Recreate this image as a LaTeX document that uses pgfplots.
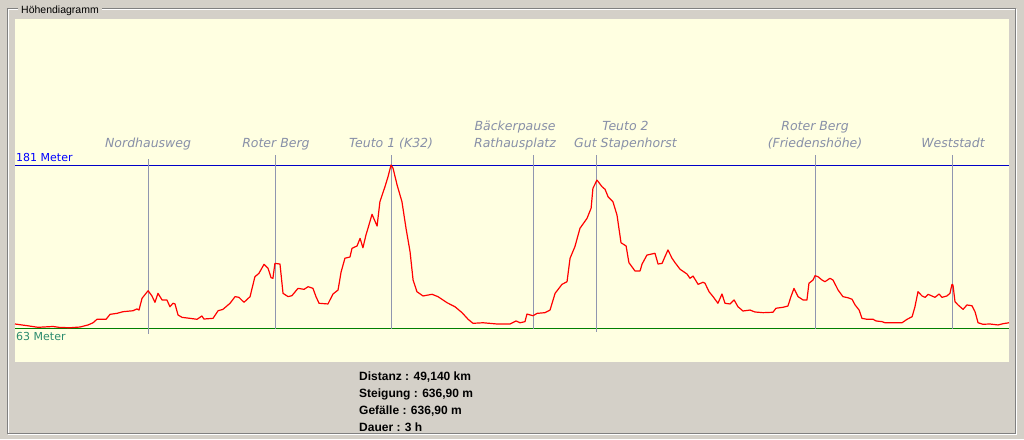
\documentclass[border=0pt]{standalone}
\usepackage{pgfplots}
\pgfplotsset{compat=1.18}
\usepackage{pgfplotstable}
\usepackage{fontspec}
\setmainfont{Liberation Sans}
\newfontfamily\dvs{DejaVu Sans}
\definecolor{winbg}{RGB}{212,208,200}
\definecolor{plotbg}{RGB}{255,255,225}
\definecolor{etchgray}{RGB}{128,128,128}
\definecolor{wpline}{RGB}{144,150,176}
\definecolor{wptext}{RGB}{136,144,168}
\definecolor{line181}{RGB}{0,0,200}
\definecolor{text181}{RGB}{0,0,255}
\definecolor{line63}{RGB}{0,128,0}
\definecolor{text63}{RGB}{45,140,110}
\definecolor{prof}{RGB}{255,0,0}
\tikzset{wplab/.style={text=wptext, anchor=base, inner sep=0pt, font=\dvs\itshape\fontsize{12.5}{15}\selectfont}}

\pgfplotstableread{
km m
0.00 65.9
0.59 64.7
1.14 63.5
1.88 64.1
2.22 63.4
2.72 63.2
3.21 63.7
3.61 65.2
3.86 66.8
4.05 69.3
4.50 69.3
4.70 72.9
5.04 73.6
5.34 74.8
5.83 75.5
6.03 76.8
6.13 76.0
6.28 84.5
6.58 90.0
6.77 86.2
6.92 81.6
7.07 88.1
7.27 83.3
7.51 83.3
7.66 78.4
7.81 80.9
7.91 80.4
8.06 72.4
8.26 70.7
8.65 70.0
9.00 69.3
9.24 71.7
9.34 69.5
9.79 70.0
10.04 75.5
10.28 76.5
10.63 80.9
10.88 85.7
11.07 85.2
11.32 81.6
11.62 85.7
11.86 100.1
12.06 102.6
12.31 109.1
12.51 106.2
12.66 99.4
12.75 99.0
12.85 109.8
13.10 109.3
13.25 88.1
13.50 85.7
13.69 86.4
13.99 91.7
14.29 91.0
14.49 92.9
14.73 91.7
14.88 85.7
15.03 80.9
15.47 80.4
15.72 87.6
15.97 90.5
16.12 103.5
16.31 113.5
16.56 114.4
16.66 120.7
16.91 122.4
17.06 127.9
17.20 121.1
17.35 130.3
17.45 135.2
17.65 145.3
17.90 136.8
18.04 154.4
18.29 165.3
18.44 172.5
18.59 181.0
18.69 178.6
18.89 166.5
19.13 154.4
19.33 135.2
19.53 118.2
19.68 97.7
19.87 89.3
20.17 86.2
20.62 87.4
20.91 85.7
21.36 81.3
21.75 78.4
22.10 74.1
22.40 69.3
22.64 66.4
23.14 66.8
23.83 65.9
24.47 65.9
24.77 68.1
24.97 66.8
25.21 67.6
25.31 73.1
25.61 71.9
25.81 73.6
26.20 74.1
26.45 76.0
26.70 88.1
27.04 94.6
27.29 96.5
27.44 113.5
27.68 121.9
27.93 135.2
28.28 142.4
28.48 149.7
28.57 164.1
28.77 170.1
29.02 165.3
29.17 163.4
29.32 158.0
29.56 154.4
29.76 144.8
29.96 124.7
30.21 122.4
30.35 110.3
30.65 104.3
30.90 104.3
31.00 109.3
31.24 115.8
31.64 117.1
31.79 109.3
31.99 109.8
32.13 114.6
32.28 119.5
32.48 113.5
32.63 110.3
32.88 105.5
33.22 102.1
33.37 99.0
33.52 100.6
33.77 94.6
34.01 96.1
34.11 95.4
34.31 89.3
34.51 85.7
34.75 80.9
34.95 87.6
35.10 80.9
35.35 80.4
35.55 83.3
35.74 78.4
35.99 75.3
36.34 76.0
36.58 74.6
36.98 74.1
37.47 74.4
37.62 77.3
37.97 78.0
38.21 78.9
38.36 85.7
38.51 91.7
38.71 85.7
38.96 83.3
39.15 83.3
39.25 95.4
39.45 97.7
39.55 100.9
39.70 100.1
39.90 97.7
40.04 96.5
40.29 99.0
40.44 97.7
40.69 90.5
40.93 85.7
41.18 84.9
41.38 83.8
41.53 79.7
41.73 76.0
41.87 70.0
42.12 69.3
42.42 69.3
42.57 68.1
42.86 67.6
43.01 66.8
43.41 66.8
43.85 66.8
44.10 69.3
44.35 71.2
44.49 78.4
44.64 89.3
44.84 86.2
44.99 85.2
45.14 87.4
45.48 85.2
45.68 87.6
45.83 85.2
46.07 86.2
46.22 88.1
46.32 94.6
46.37 94.1
46.47 82.0
46.62 79.7
46.87 76.5
47.06 79.7
47.31 79.1
47.46 74.8
47.61 66.8
47.85 65.7
48.20 65.9
48.60 65.2
48.84 66.1
49.14 66.8
}\profile

\begin{document}
\begin{tikzpicture}[x=1pt,y=1pt]
\fill[winbg] (0,0) rectangle (1024,439);
\useasboundingbox (0,0) rectangle (1024,439);
% etched group box
\draw[white, line width=1pt] (8.5,5) rectangle (1016,429.5);
\draw[etchgray, line width=1pt] (7.5,6) rectangle (1015,430.5);
\node[anchor=base west, fill=winbg, inner xsep=3pt, inner ysep=1.5pt, font=\fontsize{10.5}{12}\selectfont] at (18,425.5) {Höhendiagramm};
% plot area
\fill[plotbg] (15,77) rectangle (1009,420);
\begin{axis}[
  at={(15pt,77pt)}, anchor=south west,
  scale only axis, width=994pt, height=343pt,
  xmin=0, xmax=49.14, ymin=38.39, ymax=286.7,
  hide axis, clip=false,
]
% reference lines
\addplot[line181, line width=1pt] coordinates {(0,181) (49.14,181)};
\addplot[line63, line width=1pt] coordinates {(0,63) (49.14,63)};
% waypoint lines
\addplot[wpline, line width=1pt] coordinates {(6.58,185.3) (6.58,58.7)};
\addplot[wpline, line width=1pt] coordinates {(12.90,188.2) (12.90,62.3)};
\addplot[wpline, line width=1pt] coordinates {(18.59,188.2) (18.59,62.3)};
\addplot[wpline, line width=1pt] coordinates {(25.61,188.2) (25.61,62.3)};
\addplot[wpline, line width=1pt] coordinates {(28.77,188.2) (28.77,60.1)};
\addplot[wpline, line width=1pt] coordinates {(39.55,188.2) (39.55,62.3)};
\addplot[wpline, line width=1pt] coordinates {(46.37,188.2) (46.37,62.3)};
% profile
\addplot[prof, line width=1.2pt, line join=round] table[x=km, y=m] {\profile};
% labels
\node[wplab] at (axis cs:6.58,194.0) {Nordhausweg};
\node[wplab] at (axis cs:12.90,194.0) {Roter Berg};
\node[wplab] at (axis cs:18.59,194.0) {Teuto 1 (K32)};
\node[wplab] at (axis cs:24.72,206.0) {Bäckerpause};
\node[wplab] at (axis cs:24.72,193.7) {Rathausplatz};
\node[wplab] at (axis cs:30.18,206.0) {Teuto 2};
\node[wplab] at (axis cs:30.18,193.7) {Gut Stapenhorst};
\node[wplab] at (axis cs:39.55,206.0) {Roter Berg};
\node[wplab] at (axis cs:39.55,193.7) {(Friedenshöhe)};
\node[wplab] at (axis cs:46.37,193.7) {Weststadt};
\node[anchor=base west, inner sep=0pt, text=text181, font=\dvs\fontsize{11}{13}\selectfont] at (axis cs:0.05,183.2) {181 Meter};
\node[anchor=base west, inner sep=0pt, text=text63, font=\dvs\fontsize{11}{13}\selectfont] at (axis cs:0.05,53.8) {63 Meter};
\end{axis}
% statistics
\begin{scope}[every node/.style={anchor=base west, inner sep=0pt, font=\bfseries\fontsize{12}{14}\selectfont}]
\node at (359,58.3) {Distanz : 49,140 km};
\node at (359,41.7) {Steigung : 636,90 m};
\node at (359,24.7) {Gefälle : 636,90 m};
\node at (359,8) {Dauer : 3 h};
\end{scope}
\end{tikzpicture}
\end{document}
